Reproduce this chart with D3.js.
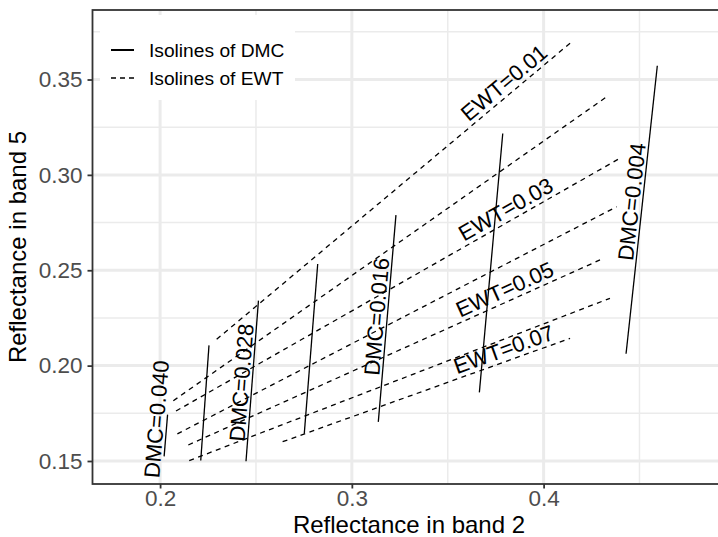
<!DOCTYPE html>
<html>
<head>
<meta charset="utf-8">
<script src="https://cdn.jsdelivr.net/npm/d3@7"></script>
<style>
  body { margin: 0; background: #ffffff; }
  svg { display: block; }
  text { font-family: "Liberation Sans", Arial, Helvetica, sans-serif; }
</style>
</head>
<body>
<svg id="chart" width="718" height="537"></svg>
<script>
// ---- data -------------------------------------------------------------
// Isolines of DMC: straight segments, [start, end] in band 2 / band 5
const dmcValues = [0.040, 0.034, 0.028, 0.022, 0.016, 0.010, 0.004];
const dmcBand2 = [[0.2021, 0.2039], [0.2212, 0.2255], [0.2448, 0.2513], [0.2752, 0.2822],
                  [0.3138, 0.3230], [0.3665, 0.3787], [0.4430, 0.4593]];
const dmcBand5 = [[0.1524, 0.1743], [0.1503, 0.2106], [0.1499, 0.2341], [0.1644, 0.2533],
                  [0.1705, 0.2789], [0.1860, 0.3217], [0.2062, 0.3572]];

// Isolines of EWT
const ewtValues = [0.01, 0.02, 0.03, 0.04, 0.05, 0.06, 0.07];
const ewtBand2 = [[0.2295, 0.4138], [0.2069, 0.4337], [0.2083, 0.4398], [0.2090, 0.4381],
                  [0.2147, 0.4294], [0.2152, 0.4346], [0.2639, 0.4138]];
const ewtBand5 = [[0.2138, 0.3690], [0.1816, 0.3415], [0.1762, 0.3087], [0.1642, 0.2833],
                  [0.1584, 0.2554], [0.1502, 0.2353], [0.1601, 0.2143]];

// Labelled isolines and where along them each label sits
const dmcLabelValues = [0.040, 0.028, 0.016, 0.004];
const dmcLabelBand5  = [0.1715, 0.1907, 0.2252, 0.2853];
const ewtLabelValues = [0.01, 0.03, 0.05, 0.07];
const ewtLabelBand2  = [0.3834, 0.3834, 0.3823, 0.3813];

// Axes
const xTicks = [0.2, 0.3, 0.4];
const xMinor = [0.25, 0.35, 0.45];
const yTicks = [0.15, 0.20, 0.25, 0.30, 0.35];
const yMinor = [0.175, 0.225, 0.275, 0.325, 0.375];
const xTitle = "Reflectance in band 2";
const yTitle = "Reflectance in band 5";
const legendItems = [
  { label: "Isolines of DMC", dash: null },
  { label: "Isolines of EWT", dash: "5,4" }
];

// ---- layout -----------------------------------------------------------
const panel = { left: 92.5, top: 10, right: 725, bottom: 484 };
const svg = d3.select("#chart");

const x = d3.scaleLinear().domain([0.16475, 0.4946]).range([panel.left, panel.right]);
const y = d3.scaleLinear().domain([0.13794, 0.38644]).range([panel.bottom, panel.top]);

const gridColor = "#EBEBEB";
const inkColor = "#333333";

// grid
const grid = svg.append("g");
grid.selectAll(".xminor").data(xMinor).join("line")
  .attr("x1", d => x(d)).attr("x2", d => x(d))
  .attr("y1", panel.top).attr("y2", panel.bottom)
  .attr("stroke", gridColor).attr("stroke-width", 1.5);
grid.selectAll(".yminor").data(yMinor).join("line")
  .attr("y1", d => y(d)).attr("y2", d => y(d))
  .attr("x1", panel.left).attr("x2", panel.right)
  .attr("stroke", gridColor).attr("stroke-width", 1.5);
grid.selectAll(".xmajor").data(xTicks).join("line")
  .attr("x1", d => x(d)).attr("x2", d => x(d))
  .attr("y1", panel.top).attr("y2", panel.bottom)
  .attr("stroke", gridColor).attr("stroke-width", 3);
grid.selectAll(".ymajor").data(yTicks).join("line")
  .attr("y1", d => y(d)).attr("y2", d => y(d))
  .attr("x1", panel.left).attr("x2", panel.right)
  .attr("stroke", gridColor).attr("stroke-width", 3);

// legend background, over the grid
const legend = svg.append("g");
legend.append("rect")
  .attr("x", 100).attr("y", 15).attr("width", 195).attr("height", 85)
  .attr("fill", "#ffffff");

// isolines
const line = d3.line().x(d => x(d[0])).y(d => y(d[1]));
const pts = (b2, b5) => [[b2[0], b5[0]], [b2[1], b5[1]]];

svg.append("g").selectAll("path").data(dmcValues).join("path")
  .attr("d", (d, i) => line(pts(dmcBand2[i], dmcBand5[i])))
  .attr("fill", "none").attr("stroke", "#000").attr("stroke-width", 1.3);

svg.append("g").selectAll("path").data(ewtValues).join("path")
  .attr("d", (d, i) => line(pts(ewtBand2[i], ewtBand5[i])))
  .attr("fill", "none").attr("stroke", "#000").attr("stroke-width", 1.3)
  .attr("stroke-dasharray", "5,4.5");

// labels sit just above their isoline, rotated to its direction
const labelG = svg.append("g");
function placeLabel(text, b2, b5, at, alongY) {
  const x0 = x(b2[0]), y0 = y(b5[0]), x1 = x(b2[1]), y1 = y(b5[1]);
  const t = alongY ? (y(at) - y0) / (y1 - y0) : (x(at) - x0) / (x1 - x0);
  const px = x0 + t * (x1 - x0), py = y0 + t * (y1 - y0);
  // read left-to-right, or bottom-to-top for the steep DMC lines
  const ang = alongY
    ? Math.atan2(Math.min(y0, y1) - Math.max(y0, y1), (y1 < y0 ? x1 - x0 : x0 - x1)) * 180 / Math.PI
    : Math.atan2(y1 - y0, x1 - x0) * 180 / Math.PI;
  labelG.append("text")
    .attr("transform", `translate(${px},${py}) rotate(${ang})`)
    .attr("y", alongY ? -3 : -4.5)
    .attr("text-anchor", "middle")
    .attr("font-size", 22)
    .attr("fill", "#000")
    .text(text);
}
dmcLabelValues.forEach((v, k) => {
  const i = dmcValues.indexOf(v);
  placeLabel("DMC=" + v.toFixed(3), dmcBand2[i], dmcBand5[i], dmcLabelBand5[k], true);
});
ewtLabelValues.forEach((v, k) => {
  const i = ewtValues.indexOf(v);
  placeLabel("EWT=" + v.toFixed(2), ewtBand2[i], ewtBand5[i], ewtLabelBand2[k], false);
});

// legend keys and text
legendItems.forEach((it, i) => {
  const cy = 50 + i * 28;
  legend.append("line")
    .attr("x1", 111).attr("x2", 134).attr("y1", cy).attr("y2", cy)
    .attr("stroke", "#000").attr("stroke-width", it.dash ? 1.3 : 2)
    .attr("stroke-dasharray", it.dash);
  legend.append("text")
    .attr("x", 149).attr("y", cy + 7)
    .attr("font-size", 19.2).attr("fill", "#000")
    .text(it.label);
});
legend.raise();

// panel border
svg.append("rect")
  .attr("x", panel.left).attr("y", panel.top)
  .attr("width", panel.right - panel.left).attr("height", panel.bottom - panel.top)
  .attr("fill", "none").attr("stroke", inkColor).attr("stroke-width", 1.8);

// axes
const xAxis = svg.append("g").attr("transform", `translate(0,${panel.bottom})`)
  .call(d3.axisBottom(x).tickValues(xTicks).tickFormat(d3.format(".1f")).tickSize(4.5).tickPadding(1.5));
const yAxis = svg.append("g").attr("transform", `translate(${panel.left},0)`)
  .call(d3.axisLeft(y).tickValues(yTicks).tickFormat(d3.format(".2f")).tickSize(5).tickPadding(5));
[xAxis, yAxis].forEach(a => {
  a.select(".domain").remove();
  a.selectAll(".tick line").attr("stroke", inkColor).attr("stroke-width", 1.8);
  a.selectAll(".tick text").attr("fill", "#4D4D4D").attr("font-size", 22.5)
    .attr("font-family", '"Liberation Sans", Arial, sans-serif');
});

// axis titles
svg.append("text")
  .attr("x", 409).attr("y", 532.5)
  .attr("text-anchor", "middle").attr("font-size", 24).attr("fill", "#000")
  .text(xTitle);
svg.append("text")
  .attr("transform", `translate(26,${(panel.top + panel.bottom) / 2}) rotate(-90)`)
  .attr("text-anchor", "middle").attr("font-size", 24).attr("fill", "#000")
  .text(yTitle);
</script>
</body>
</html>
